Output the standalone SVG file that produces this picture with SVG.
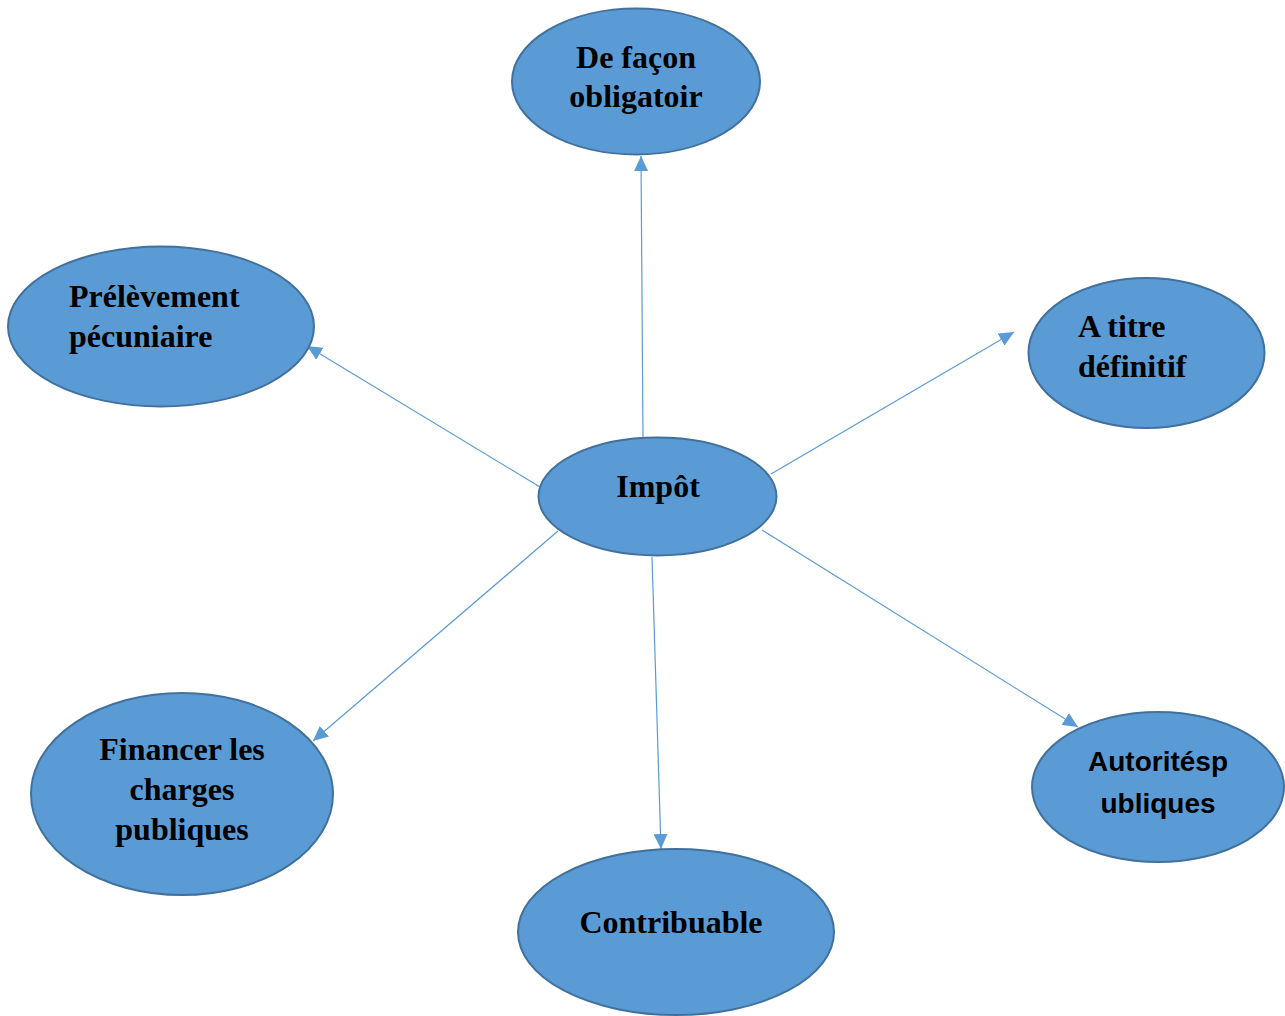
<svg xmlns="http://www.w3.org/2000/svg" width="1285" height="1016" viewBox="0 0 1285 1016">
<defs>
<style>
.node{fill:#5B9BD5;stroke:#41719C;stroke-width:2}
.t{font-family:"Liberation Serif","Times New Roman",serif;font-weight:bold;font-size:32px;fill:#000}
.s{font-family:"Liberation Sans",Arial,sans-serif;font-weight:bold;font-size:28px;fill:#000}
.c{text-anchor:middle}
.edge{stroke:#5B9BD5;stroke-width:1.2;fill:none;marker-end:url(#arr)}
</style>
<marker id="arr" markerUnits="userSpaceOnUse" markerWidth="16" markerHeight="14" refX="15" refY="7" orient="auto">
<path d="M0,0 L15,7 L0,14 z" fill="#5B9BD5"/>
</marker>
</defs>
<rect width="1285" height="1016" fill="#fff"/>
<g id="connectors">
<line class="edge" x1="643" y1="437" x2="641" y2="156"/>
<line class="edge" x1="540" y1="487" x2="307" y2="346"/>
<line class="edge" x1="771" y1="474" x2="1014" y2="332"/>
<line class="edge" x1="558" y1="531" x2="313" y2="741"/>
<line class="edge" x1="652" y1="557" x2="661" y2="849"/>
<line class="edge" x1="762" y1="530" x2="1078" y2="727"/>
</g>
<g id="node-obligatoire">
<ellipse class="node" cx="636" cy="81.5" rx="124" ry="73"/>
<text class="t c" x="636" y="68">De façon</text>
<text class="t c" x="636" y="107">obligatoir</text>
</g>
<g id="node-prelevement">
<ellipse class="node" cx="161" cy="326.5" rx="153" ry="80"/>
<text class="t" x="69" y="307">Prélèvement</text>
<text class="t" x="69" y="347">pécuniaire</text>
</g>
<g id="node-definitif">
<ellipse class="node" cx="1146.5" cy="353" rx="118" ry="75"/>
<text class="t" x="1078" y="337">A titre</text>
<text class="t" x="1078" y="377">définitif</text>
</g>
<g id="node-impot">
<ellipse class="node" cx="657.5" cy="496.5" rx="119" ry="59"/>
<text class="t c" x="658" y="497">Impôt</text>
</g>
<g id="node-financer">
<ellipse class="node" cx="182" cy="794" rx="151" ry="101"/>
<text class="t c" x="182" y="760">Financer les</text>
<text class="t c" x="182" y="800">charges</text>
<text class="t c" x="182" y="840">publiques</text>
</g>
<g id="node-contribuable">
<ellipse class="node" cx="676" cy="932" rx="158" ry="83"/>
<text class="t c" x="671" y="933">Contribuable</text>
</g>
<g id="node-autorites">
<ellipse class="node" cx="1158" cy="787" rx="126" ry="75"/>
<text class="s c" x="1158" y="771">Autoritésp</text>
<text class="s c" x="1158" y="813">ubliques</text>
</g>
</svg>
